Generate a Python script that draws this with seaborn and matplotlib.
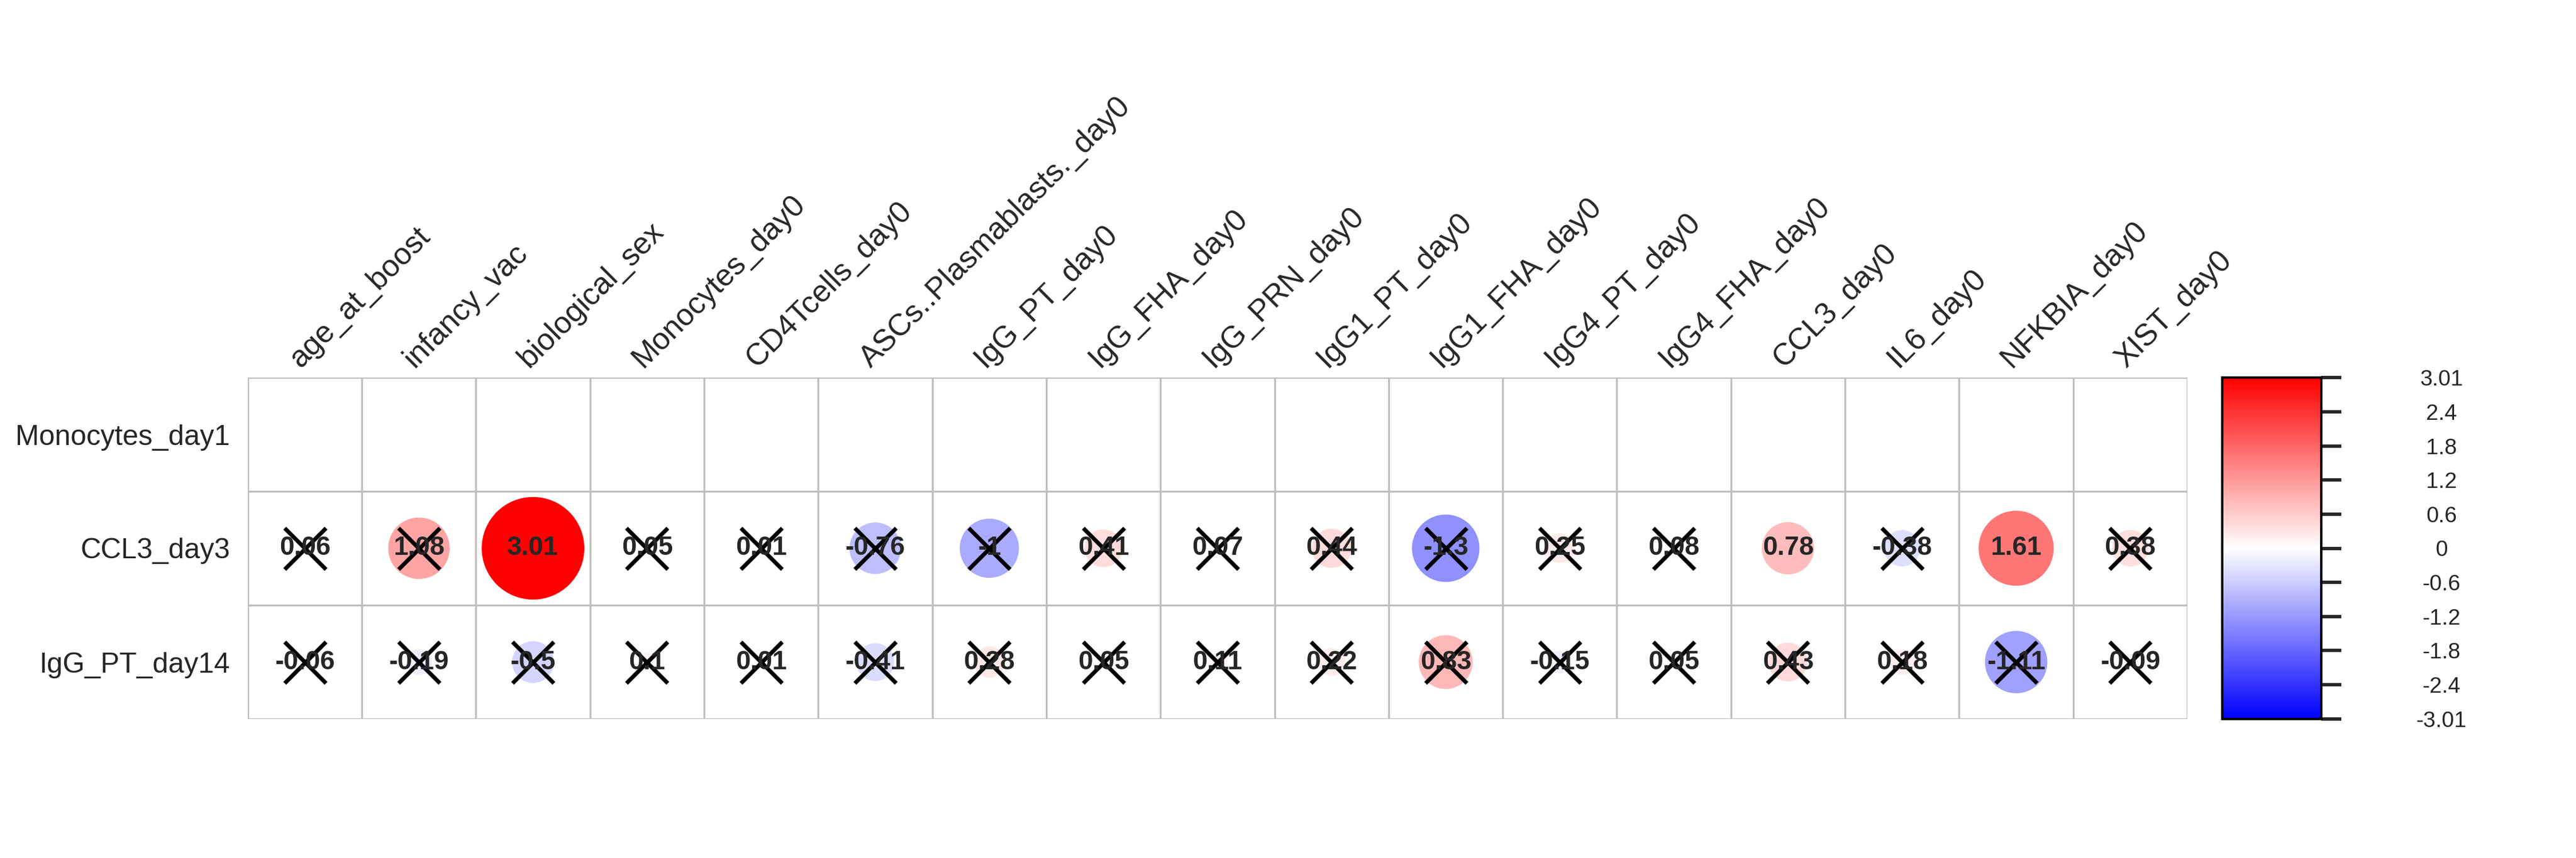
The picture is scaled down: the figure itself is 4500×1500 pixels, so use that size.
# encoding=utf-8

import numpy as np
import pandas as pd
import seaborn as sns
import matplotlib.pyplot as plt
from matplotlib.colors import LinearSegmentedColormap, Normalize
from matplotlib.cm import ScalarMappable

# data
cols = ['age_at_boost', 'infancy_vac', 'biological_sex', 'Monocytes_day0', 'CD4Tcells_day0',
        'ASCs..Plasmablasts._day0', 'IgG_PT_day0', 'IgG_FHA_day0', 'IgG_PRN_day0', 'IgG1_PT_day0',
        'IgG1_FHA_day0', 'IgG4_PT_day0', 'IgG4_FHA_day0', 'CCL3_day0', 'IL6_day0', 'NFKBIA_day0', 'XIST_day0']
rows = ['Monocytes_day1', 'CCL3_day3', 'IgG_PT_day14']

monocytes_day1 = [np.nan] * 17
ccl3_day3 = [0.06, 1.08, 3.01, 0.05, 0.01, -0.76, -1, 0.41, 0.07, 0.44, -1.3, 0.25, 0.08, 0.78, -0.38, 1.61, 0.38]
igg_pt_day14 = [-0.06, -0.19, -0.5, 0.1, 0.01, -0.41, 0.28, 0.05, 0.11, 0.22, 0.83, -0.15, 0.05, 0.43, 0.18, -1.11, -0.09]

# cells that stay without a cross
sig_ccl3_day3 = ['biological_sex', 'CCL3_day0', 'NFKBIA_day0']
sig_igg_pt_day14 = []

lim = 3.01
bar_ticks = [-3.01, -2.4, -1.8, -1.2, -0.6, 0, 0.6, 1.2, 1.8, 2.4, 3.01]
bar_labels = ['-3.01', '-2.4', '-1.8', '-1.2', '-0.6', '0', '0.6', '1.2', '1.8', '2.4', '3.01']

# long table
recs = []
for r, vals, sig in [(rows[0], monocytes_day1, []), (rows[1], ccl3_day3, sig_ccl3_day3),
                     (rows[2], igg_pt_day14, sig_igg_pt_day14)]:
    for c, v in zip(cols, vals):
        recs.append((r, c, v, c in sig))
df = pd.DataFrame(recs, columns=['row', 'col', 'value', 'sig'])
df['x'] = df['col'].map({c: i for i, c in enumerate(cols)})
df['y'] = df['row'].map({r: i for i, r in enumerate(rows)})
df['absval'] = df['value'].abs()
df = df.dropna(subset=['value'])

sns.set_style("white")
plt.rcParams['font.family'] = ['Liberation Sans', 'DejaVu Sans']

fig = plt.figure(figsize=(15, 5), dpi=300)
ax = fig.add_axes([0.0962, 0.162, 0.7529, 0.398])
cmap = LinearSegmentedColormap.from_list('bwr_corr', ['blue', 'white', 'red'])

cell_pt = 0.7529 * 15 * 72 / len(cols)
smax = (0.9 * cell_pt) ** 2

sns.scatterplot(data=df, x='x', y='y', hue='value', size='absval', palette=cmap,
                hue_norm=(-lim, lim), sizes=(0, smax), size_norm=(0, lim),
                linewidth=0, legend=False, ax=ax, zorder=2)

# crosses on the non-significant cells
sns.scatterplot(data=df[~df['sig']], x='x', y='y', marker='x', color='black',
                s=300, linewidth=1.7, legend=False, ax=ax, zorder=3)

for _, d in df.iterrows():
    ax.text(d['x'], d['y'], f"{d['value']:g}", ha='center', va='center',
            fontsize=11, fontweight='bold', zorder=4)

# grid
for i in range(len(cols) + 1):
    ax.axvline(i - 0.5, color='#BEBEBE', lw=0.8, zorder=1)
for j in range(len(rows) + 1):
    ax.axhline(j - 0.5, color='#BEBEBE', lw=0.8, zorder=1)

ax.set_xlim(-0.5, len(cols) - 0.5)
ax.set_ylim(len(rows) - 0.5, -0.5)
for s in ax.spines.values():
    s.set_visible(False)
ax.xaxis.tick_top()
ax.set_xticks(range(len(cols)))
ax.set_xticklabels(cols, rotation=45, ha='left', rotation_mode='anchor', fontsize=12.8)
ax.set_yticks(range(len(rows)))
ax.set_yticklabels(rows, fontsize=11.9)
ax.tick_params(axis='x', length=0, pad=2)
ax.tick_params(axis='y', length=0, pad=7.5)
ax.set_xlabel('')
ax.set_ylabel('')

# colour legend
cax = fig.add_axes([0.8627, 0.162, 0.0384, 0.398])
sm = ScalarMappable(norm=Normalize(-lim, lim), cmap=cmap)
cb = fig.colorbar(sm, cax=cax, ticks=bar_ticks)
cb.set_ticklabels(bar_labels)
cb.outline.set_linewidth(1)
cb.outline.set_edgecolor('black')
cax.tick_params(length=8.4, width=1.4, pad=42, labelsize=9.3)
for t in cax.get_yticklabels():
    t.set_horizontalalignment('center')

fig.savefig('out.png', dpi=300)
